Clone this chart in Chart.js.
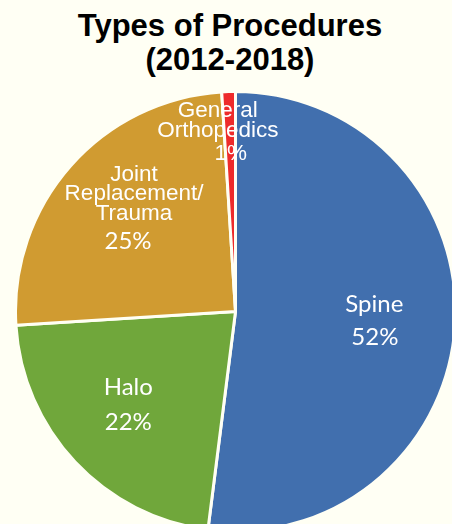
<!DOCTYPE html>
<html>
<head>
<meta charset="utf-8">
<script src="https://cdn.jsdelivr.net/npm/chart.js@4.4.1/dist/chart.umd.min.js"></script>
<style>
  html, body {
    margin: 0;
    padding: 0;
    width: 452px;
    height: 524px;
    overflow: hidden;
    background: #fffff4;
  }
  #title {
    position: absolute;
    left: 0;
    top: 9px;
    width: 460px;
    text-align: center;
    font: bold 31px "Liberation Sans", Arial, sans-serif;
    line-height: 34px;
    color: #000;
  }
  #chart-canvas {
    position: absolute;
    left: 14px;
    top: 90px;
  }
</style>
</head>
<body>
<div id="title">Types of Procedures<br>(2012-2018)</div>
<canvas id="chart-canvas" width="443" height="443"></canvas>
<script>
// data
const categories = ["Spine", "Halo", "Joint Replacement/ Trauma", "General Orthopedics"];
const labelLines = [["Spine"], ["Halo"], ["Joint", "Replacement/", "Trauma"], ["General", "Orthopedics"]];
const shares = [52, 22, 25, 1];
const sliceColors = ["#416fae", "#70a73b", "#d09b31", "#ee2b2b"];

const calibriLike = "24px Lato, 'Open Sans', sans-serif";
const arialLike = "22.5px 'Liberation Sans', Arial, sans-serif";

// where each label sits: fraction of radius along the slice's middle, then nudges
const labelStyle = [
  { f: 0.63, nameFont: calibriLike, pctFont: calibriLike, nameDx: 0.5, pctDx: 1, nameY: [-8.5], pctY: 24.5 },
  { f: 0.65, nameFont: calibriLike, pctFont: calibriLike, nameDx: -3, pctDx: -3, nameY: [-14.4], pctY: 20.6 },
  { f: 0.65, nameFont: arialLike, pctFont: calibriLike, nameDx: 5.8, pctDx: -0.2, nameY: [-35.9, -16.9, 3.1], pctY: 32.1 },
  { f: 0.82, nameFont: arialLike, pctFont: arialLike, nameDx: -12, pctDx: 1, nameY: [-14.2, 5.8], pctY: 28.8 }
];

const sliceLabels = {
  id: "sliceLabels",
  afterDatasetsDraw(chart) {
    const ctx = chart.ctx;
    const arcs = chart.getDatasetMeta(0).data;
    ctx.save();
    ctx.fillStyle = "#ffffff";
    ctx.textAlign = "center";
    ctx.textBaseline = "alphabetic";
    arcs.forEach((arc, i) => {
      const s = labelStyle[i];
      const mid = (arc.startAngle + arc.endAngle) / 2;
      const r = arc.outerRadius * s.f;
      const x = arc.x + Math.cos(mid) * r;
      const y = arc.y + Math.sin(mid) * r;
      ctx.font = s.nameFont;
      labelLines[i].forEach((line, k) => {
        ctx.fillText(line, x + s.nameDx, y + s.nameY[k]);
      });
      ctx.font = s.pctFont;
      ctx.fillText(shares[i] + "%", x + s.pctDx, y + s.pctY);
    });
    ctx.restore();
  }
};

new Chart(document.getElementById("chart-canvas"), {
  type: "pie",
  data: {
    labels: categories,
    datasets: [
      {
        data: shares,
        backgroundColor: sliceColors,
        borderColor: "#fffff4",
        borderWidth: 3
      }
    ]
  },
  options: {
    responsive: false,
    animation: false,
    devicePixelRatio: 1,
    layout: { padding: 0 },
    plugins: {
      legend: { display: false },
      tooltip: { enabled: false },
      title: { display: false }
    }
  },
  plugins: [sliceLabels]
});
</script>
</body>
</html>
